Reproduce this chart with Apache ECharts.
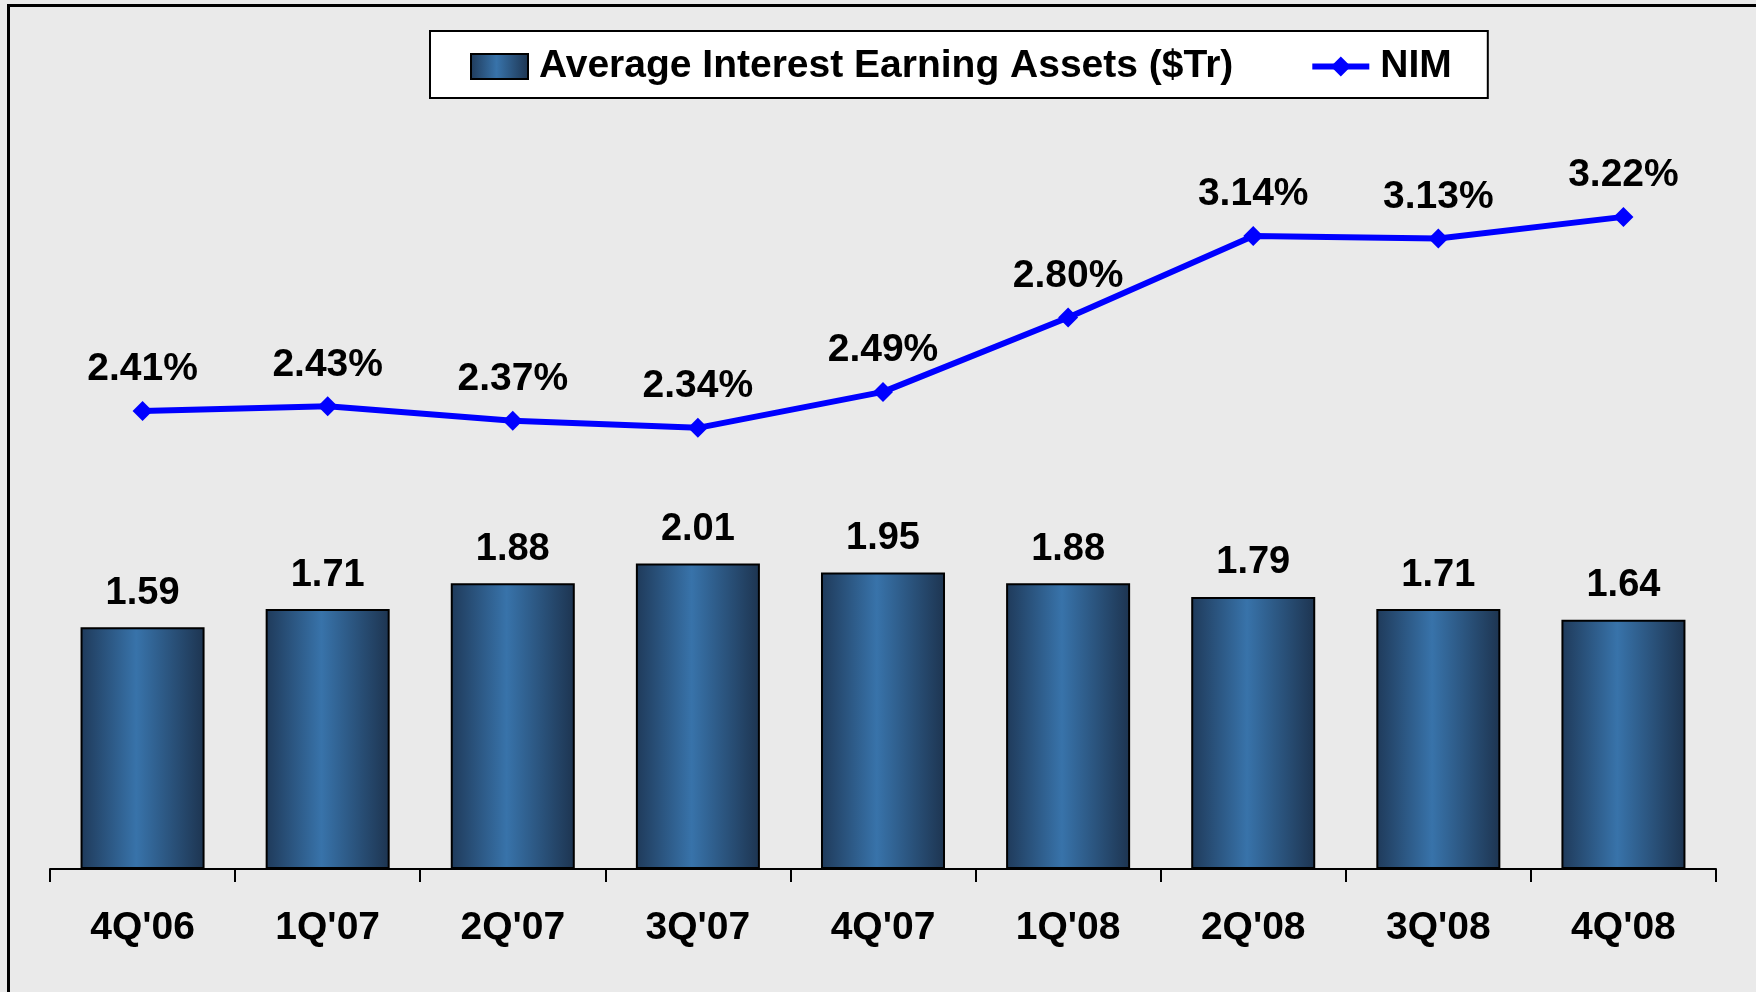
<!DOCTYPE html>
<html>
<head>
<meta charset="utf-8">
<script src="https://cdn.jsdelivr.net/npm/echarts@6/dist/echarts.min.js"></script>
<style>
html,body{margin:0;padding:0;background:#eaeaea;}
#c{width:1756px;height:992px;}
</style>
</head>
<body>
<div id="c"></div>
<script>
const categories = ["4Q'06","1Q'07","2Q'07","3Q'07","4Q'07","1Q'08","2Q'08","3Q'08","4Q'08"];
const assets = [1.59, 1.71, 1.88, 2.01, 1.95, 1.88, 1.79, 1.71, 1.64];
const nim = [2.41, 2.43, 2.37, 2.34, 2.49, 2.80, 3.14, 3.13, 3.22];
const barName = 'Average Interest Earning Assets ($Tr)';
const lineName = 'NIM';

const FONT = '"Liberation Sans", Arial, sans-serif';
const chart = echarts.init(document.getElementById('c'));
const barGrad = new echarts.graphic.LinearGradient(0, 0, 1, 0, [
  {offset: 0, color: '#1f3a5a'},
  {offset: 0.45, color: '#3873aa'},
  {offset: 1, color: '#1d3450'}
]);
chart.setOption({
  backgroundColor: '#eaeaea',
  animation: false,
  textStyle: {fontFamily: FONT},
  graphic: [
    {type: 'line', shape: {x1: 8.5, y1: 5.5, x2: 8.5, y2: 992}, style: {stroke: '#000', lineWidth: 3}},
    {type: 'line', shape: {x1: 7, y1: 5.5, x2: 1756, y2: 5.5}, style: {stroke: '#000', lineWidth: 3}}
  ],
  legend: {
    left: 430, top: 31,
    padding: [16, 36, 12, 40],
    backgroundColor: '#ffffff',
    borderColor: '#000', borderWidth: 2,
    itemWidth: 57, itemHeight: 25, itemGap: 76,
    textStyle: {fontSize: 39, fontWeight: 'bold', color: '#000', fontFamily: FONT, padding: [0, 0, 0, 6]},
    data: [
      {name: barName, icon: 'rect', itemStyle: {color: barGrad, borderColor: '#000', borderWidth: 2}},
      {name: lineName, lineStyle: {width: 6, color: '#0000ff'}, itemStyle: {color: '#0000ff'}}
    ]
  },
  grid: {left: 50, right: 40, top: 109, bottom: 123},
  xAxis: {
    type: 'category', data: categories, boundaryGap: true,
    axisLine: {lineStyle: {color: '#000', width: 2}},
    axisTick: {show: true, length: 13, lineStyle: {color: '#000', width: 2}},
    axisLabel: {fontSize: 39, fontWeight: 'bold', color: '#000', margin: 40, fontFamily: FONT}
  },
  yAxis: [
    {type: 'value', min: 0, max: 5, show: false, splitLine: {show: false}},
    {type: 'value', min: 0.5, max: 3.67, show: false, splitLine: {show: false}}
  ],
  series: [
    {
      name: barName, type: 'bar', data: assets, yAxisIndex: 0,
      barWidth: '67%',
      itemStyle: {color: barGrad, borderColor: '#000', borderWidth: 2},
      label: {show: true, position: 'top', distance: 15, fontSize: 38, fontWeight: 'bold', color: '#000', fontFamily: FONT,
        formatter: p => p.value.toFixed(2)}
    },
    {
      name: lineName, type: 'line', data: nim, yAxisIndex: 1,
      symbol: 'diamond', symbolSize: 20,
      lineStyle: {color: '#0000ff', width: 6},
      itemStyle: {color: '#0000ff'},
      label: {show: true, position: 'top', distance: 12, fontSize: 39, fontWeight: 'bold', color: '#000', fontFamily: FONT,
        formatter: p => p.value.toFixed(2) + '%'}
    }
  ]
});
</script>
</body>
</html>
